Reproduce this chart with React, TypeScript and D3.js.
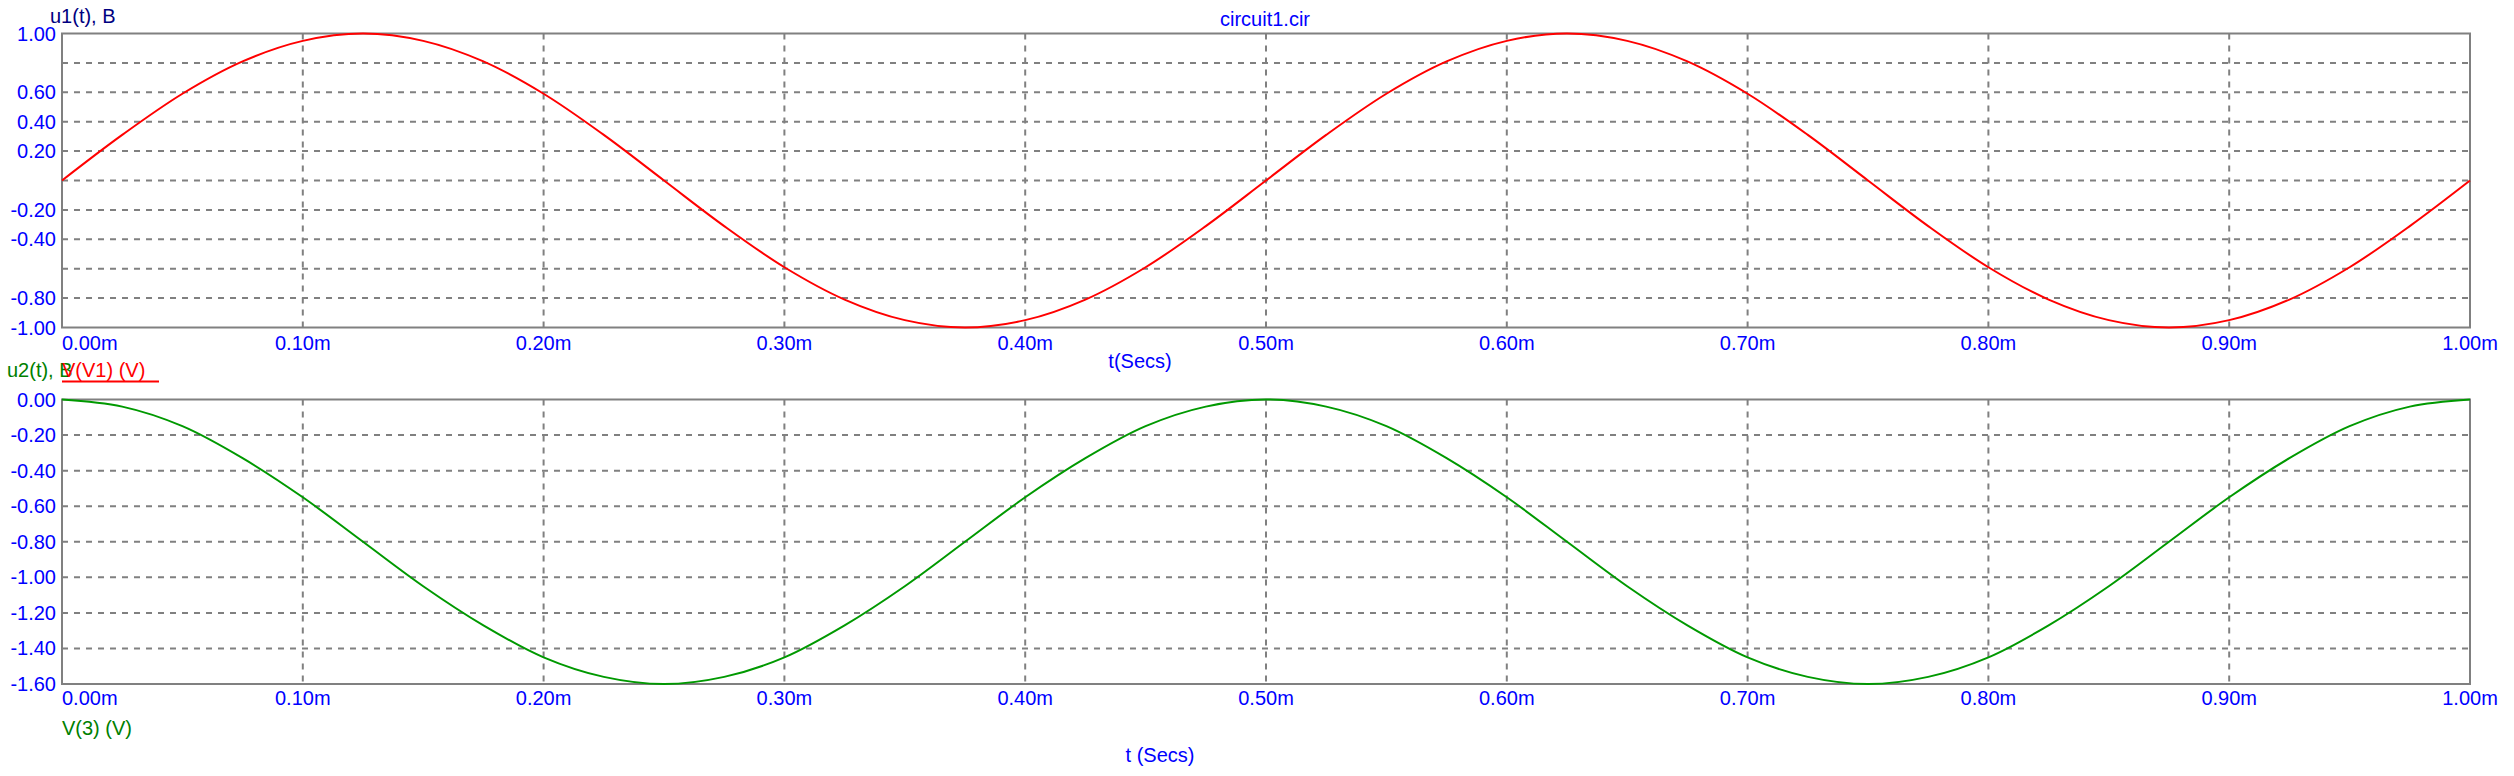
import React from "react";
import * as d3 from "d3";

// time axis (ms) sample points
const timeMs = [
  0, 0.025, 0.05, 0.075, 0.1, 0.125, 0.15, 0.175, 0.2, 0.225, 0.25, 0.275, 0.3, 0.325, 0.35, 0.375, 0.4,
  0.425, 0.45, 0.475, 0.5, 0.525, 0.55, 0.575, 0.6, 0.625, 0.65, 0.675, 0.7, 0.725, 0.75, 0.775, 0.8,
  0.825, 0.85, 0.875, 0.9, 0.925, 0.95, 0.975, 1.0,
];
// V(V1) values
const u1Values = [
  0, 0.31, 0.59, 0.81, 0.95, 1.0, 0.95, 0.81, 0.59, 0.31, 0, -0.31, -0.59, -0.81, -0.95, -1.0, -0.95,
  -0.81, -0.59, -0.31, 0, 0.31, 0.59, 0.81, 0.95, 1.0, 0.95, 0.81, 0.59, 0.31, 0, -0.31, -0.59,
  -0.81, -0.95, -1.0, -0.95, -0.81, -0.59, -0.31, 0,
];
// V(3) values
const u2Values = [
  0, -0.04, -0.15, -0.33, -0.55, -0.8, -1.05, -1.27, -1.45, -1.56, -1.6, -1.56, -1.45, -1.27, -1.05, -0.8, -0.55,
  -0.33, -0.15, -0.04, 0, -0.04, -0.15, -0.33, -0.55, -0.8, -1.05, -1.27, -1.45, -1.56, -1.6, -1.56, -1.45,
  -1.27, -1.05, -0.8, -0.55, -0.33, -0.15, -0.04, 0,
];

const xTicks = [0, 0.1, 0.2, 0.3, 0.4, 0.5, 0.6, 0.7, 0.8, 0.9, 1.0];
const xTickLabels = ["0.00m", "0.10m", "0.20m", "0.30m", "0.40m", "0.50m", "0.60m", "0.70m", "0.80m", "0.90m", "1.00m"];
const y1Ticks = [1, 0.8, 0.6, 0.4, 0.2, 0, -0.2, -0.4, -0.6, -0.8, -1];
const y1TickLabels = ["1.00", "", "0.60", "0.40", "0.20", "", "-0.20", "-0.40", "", "-0.80", "-1.00"];
const y2Ticks = [0, -0.2, -0.4, -0.6, -0.8, -1.0, -1.2, -1.4, -1.6];
const y2TickLabels = ["0.00", "-0.20", "-0.40", "-0.60", "-0.80", "-1.00", "-1.20", "-1.40", "-1.60"];

const FONT = "'Liberation Sans', Arial, sans-serif";
const GRID = "#808080";
const BLUE = "#0000ff";

type PanelProps = {
  yTop: number;
  yBot: number;
  domain: [number, number];
  yTicks: number[];
  yLabels: string[];
  values: number[];
  color: string;
  xLabelY: number;
};

const X0 = 62;
const X1 = 2470;
const xScale = d3.scaleLinear().domain([0, 1]).range([X0, X1]);

function Panel({ yTop, yBot, domain, yTicks, yLabels, values, color, xLabelY }: PanelProps) {
  const y = d3.scaleLinear().domain(domain).range([yBot, yTop]);
  const pts: [number, number][] = timeMs.map((t, i) => [t, values[i]]);
  const line = d3
    .line<[number, number]>()
    .x((d) => xScale(d[0]))
    .y((d) => y(d[1]))
    .curve(d3.curveCatmullRom.alpha(0.5));
  return (
    <g>
      {xTicks.slice(1, -1).map((t) => (
        <line key={"vx" + t} x1={xScale(t)} x2={xScale(t)} y1={yTop} y2={yBot} stroke={GRID} strokeWidth={2} strokeDasharray="6,6" />
      ))}
      {yTicks
        .filter((v) => v !== domain[0] && v !== domain[1])
        .map((v) => (
          <line key={"hy" + v} x1={X0} x2={X1} y1={y(v)} y2={y(v)} stroke={GRID} strokeWidth={2} strokeDasharray="6,6" />
        ))}
      <rect x={X0} y={yTop} width={X1 - X0} height={yBot - yTop} fill="none" stroke={GRID} strokeWidth={2} />
      <path d={line(pts) || ""} fill="none" stroke={color} strokeWidth={2} />
      {yTicks.map((v, i) => (
        <text key={"yl" + v} x={56} y={y(v) + 7} textAnchor="end" fontFamily={FONT} fontSize={20} fill={BLUE}>
          {yLabels[i]}
        </text>
      ))}
      {xTicks.map((t, i) => (
        <text
          key={"xl" + t}
          x={i === 0 ? X0 : xScale(t)}
          y={xLabelY}
          textAnchor={i === 0 ? "start" : "middle"}
          fontFamily={FONT}
          fontSize={20}
          fill={BLUE}
        >
          {xTickLabels[i]}
        </text>
      ))}
    </g>
  );
}

export default function App() {
  return (
    <svg width={2514} height={776} style={{ position: "absolute", left: 0, top: 0, background: "#fff" }}>
      <rect x={0} y={0} width={2514} height={776} fill="#fff" />
      <text x={1265} y={26} textAnchor="middle" fontFamily={FONT} fontSize={20} fill={BLUE}>
        circuit1.cir
      </text>
      <text x={50} y={23} fontFamily={FONT} fontSize={20} fill="#000080">
        u1(t), B
      </text>
      <Panel yTop={33.5} yBot={327.5} domain={[-1, 1]} yTicks={y1Ticks} yLabels={y1TickLabels} values={u1Values} color="#ff0000" xLabelY={350} />
      <text x={1140} y={368} textAnchor="middle" fontFamily={FONT} fontSize={20} fill={BLUE}>
        t(Secs)
      </text>
      <text x={7} y={377} fontFamily={FONT} fontSize={20} fill="#008000">
        u2(t), B
      </text>
      <text x={62} y={377} fontFamily={FONT} fontSize={20} fill="#ff0000">
        V(V1) (V)
      </text>
      <line x1={62} x2={159} y1={381.5} y2={381.5} stroke="#ff0000" strokeWidth={2} />
      <Panel yTop={399.5} yBot={684} domain={[-1.6, 0]} yTicks={y2Ticks} yLabels={y2TickLabels} values={u2Values} color="#009900" xLabelY={705} />
      <text x={62} y={735} fontFamily={FONT} fontSize={20} fill="#008000">
        V(3) (V)
      </text>
      <text x={1160} y={762} textAnchor="middle" fontFamily={FONT} fontSize={20} fill={BLUE}>
        t (Secs)
      </text>
    </svg>
  );
}
